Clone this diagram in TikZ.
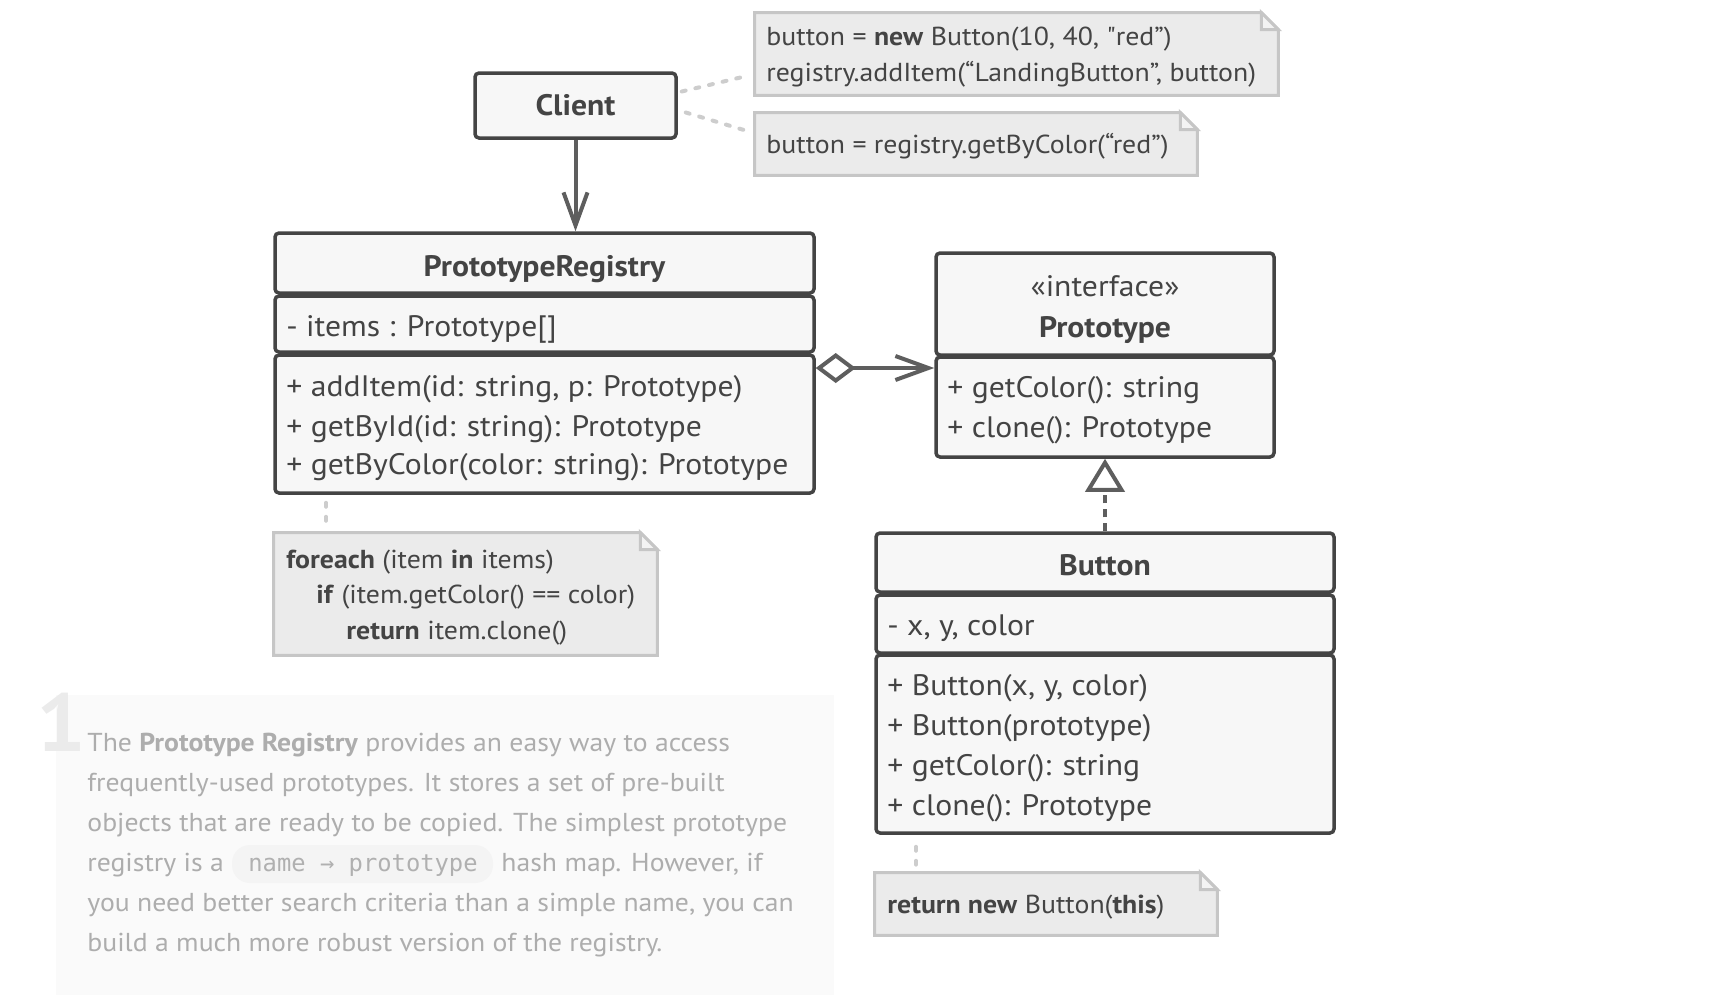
\documentclass[tikz,border=0pt]{standalone}
\usepackage{fontspec}
\setmainfont{PT Sans}[FakeStretch=1.07]
\newfontfamily\codefont{DejaVu Sans Mono}
\usetikzlibrary{arrows.meta,fit,positioning}

\definecolor{ink}{HTML}{444444}
\definecolor{boxfill}{HTML}{F7F7F7}
\definecolor{connc}{HTML}{5E5E5E}
\definecolor{notefill}{HTML}{EBEBEB}
\definecolor{noteline}{HTML}{C6C6C6}
\definecolor{dotline}{HTML}{CDCDCD}
\definecolor{paratext}{HTML}{ADADAD}
\definecolor{codetext}{HTML}{B0B0B0}
\definecolor{parabg}{HTML}{FAFAFA}
\definecolor{codebg}{HTML}{F4F4F4}
\definecolor{bignum}{HTML}{EBEBEB}

\newcommand{\straightquote}{{\addfontfeature{Ligatures=TeXOff}"}}

\begin{document}
\begin{tikzpicture}[x=0.5pt,y=-0.5pt,
  compart/.style={draw=ink, fill=boxfill, line width=1.75pt, rounded corners=2pt, inner sep=0pt},
  fitbox/.style={inner sep=0pt},
  clstxt/.style={font=\fontsize{14.8}{17}\selectfont, text=ink, inner sep=0pt, anchor=base west},
  clstitle/.style={font=\bfseries\fontsize{14.8}{17}\selectfont, text=ink, inner sep=0pt, anchor=base},
  notetxt/.style={font=\fontsize{13}{15}\selectfont, text=ink, inner sep=0pt, anchor=base west},
  notebody/.style={draw=noteline, fill=notefill, line width=1.5pt},
  foldpart/.style={draw=noteline, fill=notefill!60!white, line width=1.5pt},
  connline/.style={draw=connc, line width=2pt},
  dashpat/.style={dash pattern=on 4pt off 3pt},
  dotconn/.style={draw=dotline, line width=2pt, line cap=round, dash pattern=on 2pt off 5pt},
  paratxt/.style={font=\fontsize{12.95}{15}\selectfont, text=paratext, inner sep=0pt, anchor=base west},
  codebox/.style={fill=codebg, rounded corners=9pt, inner sep=0pt},
  barb/.style={-{Straight Barb[length=16.5pt,width=12pt]}}
]
\useasboundingbox (0,0) rectangle (1710,998);

% ---------- paragraph block ----------
\node[fitbox, fill=parabg, fit={(56,695) (834,995)}] (parabox) {};
\node[inner sep=0pt, anchor=base west, text=bignum, font=\bfseries\fontsize{41}{41}\selectfont] (num) at (36,751) {1};
\node[paratxt] (p1) at (87,751) {The \textbf{Prototype Registry} provides an easy way to access};
\node[paratxt] (p2) at (87,791) {frequently-used prototypes. It stores a set of pre-built};
\node[paratxt] (p3) at (87,831) {objects that are ready to be copied. The simplest prototype};
\node[paratxt] (p4) at (87,871) {registry is a};
\node[codebox, fit={(232,845) (493,883)}] (codebg) {};
\node[inner sep=0pt, anchor=base west, text=codetext, font=\codefont\fontsize{11.9}{14}\selectfont] (code) at (248,871) {name → prototype};
\node[paratxt] (p4b) at (501,871) {hash map. However, if};
\node[paratxt] (p5) at (87,911) {you need better search criteria than a simple name, you can};
\node[paratxt] (p6) at (87,951) {build a much more robust version of the registry.};

% ---------- Client ----------
\node[compart, fit={(475,73) (676,138)}] (client) {};
\node[clstitle, anchor=center] (clientlbl) at (client.center) {Client};

% ---------- notes at top ----------
\node[fitbox, fit={(755,13) (1278,95)}] (n1) {};
\draw[notebody] (n1.south west) -- (n1.north west) -- ([xshift=-8.5pt]n1.north east) -- ([yshift=-8.5pt]n1.north east) -- (n1.south east) -- cycle;
\draw[foldpart] ([xshift=-8.5pt]n1.north east) -- ([xshift=-8.5pt,yshift=-8.5pt]n1.north east) -- ([yshift=-8.5pt]n1.north east) -- cycle;
\node[notetxt] (n1a) at (766,45) {button = \textbf{new} Button(10, 40, \straightquote red”)};
\node[notetxt] (n1b) at (766,81) {registry.addItem(“LandingButton”, button)};

\node[fitbox, fit={(755,113) (1197,175)}] (n2) {};
\draw[notebody] (n2.south west) -- (n2.north west) -- ([xshift=-8.5pt]n2.north east) -- ([yshift=-8.5pt]n2.north east) -- (n2.south east) -- cycle;
\draw[foldpart] ([xshift=-8.5pt]n2.north east) -- ([xshift=-8.5pt,yshift=-8.5pt]n2.north east) -- ([yshift=-8.5pt]n2.north east) -- cycle;
\node[notetxt] (n2a) at (766,153) {button = registry.getByColor(“red”)};

\draw[dotconn] ([yshift=7pt,xshift=2pt]client.east) -- ([yshift=-11pt,xshift=-4pt]n1.west);
\draw[dotconn] ([yshift=-3.5pt,xshift=4pt]client.east) -- ([yshift=6pt,xshift=-2pt]n2.west);

% ---------- PrototypeRegistry ----------
\node[compart, fit={(275,233) (814,293)}] (regT) {};
\node[compart, fit={(275,296) (814,352)}] (regA) {};
\node[compart, fit={(275,355) (814,493)}] (regM) {};
\node[clstitle] (regname) at (544.5,276) {PrototypeRegistry};
\node[clstxt] (rega1) at (286,336) {- items : Prototype[]};
\node[clstxt] (regm1) at (286,396) {+ addItem(id: string, p: Prototype)};
\node[clstxt] (regm2) at (286,436) {+ getById(id: string): Prototype};
\node[clstxt] (regm3) at (286,474) {+ getByColor(color: string): Prototype};

% ---------- Prototype interface ----------
\node[compart, fit={(936,253) (1274,355)}] (protoT) {};
\node[compart, fit={(936,357) (1274,457)}] (protoM) {};
\node[clstitle, font=\fontsize{14.8}{17}\selectfont] (stereo) at (1105,296) {«interface»};
\node[clstitle] (protoname) at (1105,337) {Prototype};
\node[clstxt] (protom1) at (947,397) {+ getColor(): string};
\node[clstxt] (protom2) at (947,437) {+ clone(): Prototype};

% ---------- Button ----------
\node[compart, fit={(876,533) (1334,592)}] (btnT) {};
\node[compart, fit={(876,595) (1334,653)}] (btnA) {};
\node[compart, fit={(876,655) (1334,833)}] (btnM) {};
\node[clstitle] (btnname) at (1105,575) {Button};
\node[clstxt] (btna1) at (887,635) {- x, y, color};
\node[clstxt] (btnm1) at (887,695) {+ Button(x, y, color)};
\node[clstxt] (btnm2) at (887,735) {+ Button(prototype)};
\node[clstxt] (btnm3) at (887,775) {+ getColor(): string};
\node[clstxt] (btnm4) at (887,815) {+ clone(): Prototype};

% ---------- foreach note ----------
\node[fitbox, fit={(274,533) (657,655)}] (fe) {};
\draw[notebody] (fe.south west) -- (fe.north west) -- ([xshift=-8.5pt]fe.north east) -- ([yshift=-8.5pt]fe.north east) -- (fe.south east) -- cycle;
\draw[foldpart] ([xshift=-8.5pt]fe.north east) -- ([xshift=-8.5pt,yshift=-8.5pt]fe.north east) -- ([yshift=-8.5pt]fe.north east) -- cycle;
\node[notetxt] (fe1) at (286,568) {\textbf{foreach} (item \textbf{in} items)};
\node[notetxt] (fe2) at (316,603) {\textbf{if} (item.getColor() == color)};
\node[notetxt] (fe3) at (346,639) {\textbf{return} item.clone()};
\coordinate (fx) at (326,0);
\draw[dotconn, shorten <=4pt, shorten >=3pt] (regM.south -| fx) -- (fe.north -| fx);

% ---------- return note ----------
\node[fitbox, fit={(875,873) (1217,935)}] (rn) {};
\draw[notebody] (rn.south west) -- (rn.north west) -- ([xshift=-8.5pt]rn.north east) -- ([yshift=-8.5pt]rn.north east) -- (rn.south east) -- cycle;
\draw[foldpart] ([xshift=-8.5pt]rn.north east) -- ([xshift=-8.5pt,yshift=-8.5pt]rn.north east) -- ([yshift=-8.5pt]rn.north east) -- cycle;
\node[notetxt] (rn1) at (887,913) {\textbf{return new} Button(\textbf{this})};
\coordinate (rx) at (916,0);
\draw[dotconn, shorten <=6pt, shorten >=4pt] (btnM.south -| rx) -- (rn.north -| rx);

% ---------- connectors ----------
\draw[connline, barb] (client.south) -- (client.south |- regT.north);
\coordinate (aggY) at (0,368);
\draw[connline, {Diamond[open,length=20pt,width=15pt]}-{Straight Barb[length=16.5pt,width=12pt]}] (regM.east |- aggY) -- (protoM.west |- aggY);
\draw[connline, dashpat, -{Triangle[open,length=16.5pt,width=19.5pt]}] (btnT.north) -- (protoM.south);

\end{tikzpicture}
\end{document}
